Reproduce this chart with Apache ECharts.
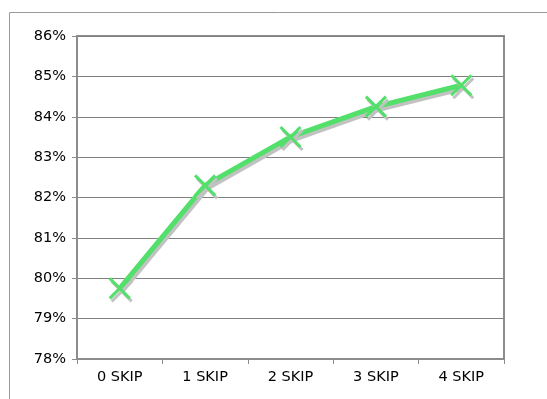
<!DOCTYPE html>
<html>
<head>
<meta charset="utf-8">
<script src="https://cdn.jsdelivr.net/npm/echarts@6/dist/echarts.min.js"></script>
<style>html,body{margin:0;padding:0;background:#fff;}#c{width:547px;height:399px;}</style>
</head>
<body>
<div id="c"></div>
<script>
const categories = ['0 SKIP', '1 SKIP', '2 SKIP', '3 SKIP', '4 SKIP'];
const values = [79.75, 82.3, 83.5, 84.25, 84.78];
const yMin = 78, yMax = 86, yStep = 1;

const green = '#52e06b';
const shadow = '#c2c2c2';
const chart = echarts.init(document.getElementById('c'), null, {renderer: 'canvas'});
chart.setOption({
  animation: false,
  backgroundColor: '#fff',
  graphic: [{
    type: 'rect', left: 7, top: 10, silent: true,
    shape: {x: 0, y: 0, width: 600, height: 500},
    style: {fill: 'none', stroke: '#9a9a9a', lineWidth: 1}
  }],
  grid: {left: 77, top: 36, right: 43, bottom: 40, show: true, borderColor: '#8c8c8c', borderWidth: 2, backgroundColor: 'transparent'},
  xAxis: {
    type: 'category', data: categories, boundaryGap: true,
    axisLine: {lineStyle: {color: '#8c8c8c', width: 2}},
    axisTick: {show: true, length: 5, lineStyle: {color: '#8c8c8c'}},
    axisLabel: {color: '#000', fontFamily: 'DejaVu Sans', fontSize: 14.5, margin: 11}
  },
  yAxis: {
    type: 'value', min: yMin, max: yMax, interval: yStep,
    axisLine: {show: true, lineStyle: {color: '#8c8c8c', width: 2}},
    axisTick: {show: true, length: 5, lineStyle: {color: '#8c8c8c'}},
    axisLabel: {color: '#000', fontFamily: 'DejaVu Sans', fontSize: 14.5, margin: 11, formatter: '{value}%'},
    splitLine: {lineStyle: {color: '#808080', width: 1}}
  },
  series: [{
    type: 'line', data: values,
    symbol: 'path://M0,0L100,100M100,0L0,100', symbolSize: 20,
    lineStyle: {color: green, width: 5, shadowColor: shadow, shadowOffsetX: 2, shadowOffsetY: 3, shadowBlur: 0},
    itemStyle: {color: 'none', borderColor: green, borderWidth: 3, shadowColor: shadow, shadowOffsetX: 2, shadowOffsetY: 3, shadowBlur: 0},
    smooth: false
  }]
});
</script>
</body>
</html>
